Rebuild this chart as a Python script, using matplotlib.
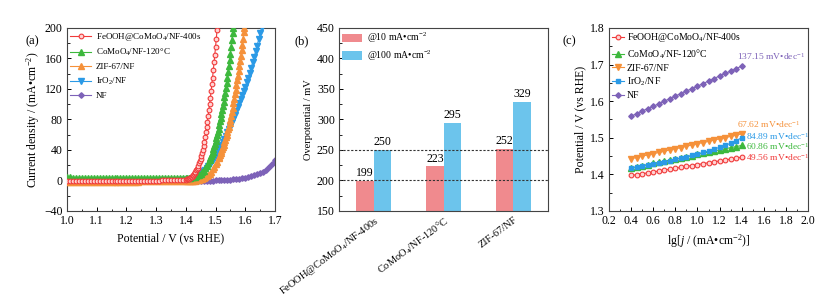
import matplotlib
matplotlib.use("Agg")
import matplotlib.pyplot as plt
from matplotlib.ticker import MultipleLocator
import numpy as np

plt.rcParams['font.family'] = ['Liberation Serif', 'DejaVu Serif']
plt.rcParams['mathtext.fontset'] = 'custom'
plt.rcParams['mathtext.rm'] = 'Liberation Serif'
plt.rcParams['mathtext.it'] = 'Liberation Serif:italic'
plt.rcParams['xtick.direction'] = 'in'
plt.rcParams['ytick.direction'] = 'in'
plt.rcParams['axes.linewidth'] = 0.8

# colours per sample
c_red = '#f03a3a'
c_green = '#3db83d'
c_orange = '#f5913a'
c_blue = '#2b9ae6'
c_purple = '#7d62b8'

names = ["FeOOH@CoMoO$_4$/NF-400s", "CoMoO$_4$/NF-120\u00b0C", "ZIF-67/NF", "IrO$_2$/NF", "NF"]

# ---------------- (a) LSV curves ----------------
# common low-potential part (1.00 - 1.39 V)
v_base = [1.00, 1.01, 1.02, 1.03, 1.04, 1.05, 1.06, 1.07, 1.08, 1.09,
          1.10, 1.11, 1.12, 1.13, 1.14, 1.15, 1.16, 1.17, 1.18, 1.19,
          1.20, 1.21, 1.22, 1.23, 1.24, 1.25, 1.26, 1.27, 1.28, 1.29,
          1.30, 1.31, 1.32, 1.33, 1.34, 1.35, 1.36, 1.37, 1.38, 1.39]
j_red_base = [-1.2, -1.2, -1.1, -1.1, -1.0, -1.0, -1.0, -0.9, -0.9, -0.9,
              -0.8, -0.8, -0.8, -0.7, -0.7, -0.7, -0.6, -0.6, -0.6, -0.5,
              -0.5, -0.5, -0.4, -0.4, -0.4, -0.3, -0.3, -0.3, -0.2, -0.2,
              -0.1, -0.1, 0.0, 0.0, 0.1, 0.2, 0.3, 0.4, 0.6, 0.8]
j_green_base = [4.0, 4.0, 3.9, 3.9, 3.8, 3.8, 3.7, 3.7, 3.6, 3.6,
                3.5, 3.5, 3.5, 3.4, 3.4, 3.4, 3.3, 3.3, 3.3, 3.3,
                3.2, 3.2, 3.2, 3.2, 3.1, 3.1, 3.1, 3.1, 3.1, 3.1,
                3.1, 3.1, 3.1, 3.1, 3.1, 3.1, 3.1, 3.1, 3.2, 3.2]
j_orange_base = [-2.2, -2.2, -2.1, -2.1, -2.0, -2.0, -2.0, -1.9, -1.9, -1.9,
                 -1.8, -1.8, -1.8, -1.7, -1.7, -1.7, -1.6, -1.6, -1.6, -1.5,
                 -1.5, -1.5, -1.4, -1.4, -1.4, -1.3, -1.3, -1.3, -1.3, -1.2,
                 -1.2, -1.2, -1.2, -1.1, -1.1, -1.1, -1.1, -1.0, -1.0, -1.0]
j_blue_base = [-1.5, -1.5, -1.4, -1.4, -1.4, -1.3, -1.3, -1.3, -1.2, -1.2,
               -1.2, -1.1, -1.1, -1.1, -1.0, -1.0, -1.0, -0.9, -0.9, -0.9,
               -0.8, -0.8, -0.8, -0.7, -0.7, -0.7, -0.6, -0.6, -0.6, -0.5,
               -0.5, -0.4, -0.4, -0.3, -0.3, -0.2, -0.1, -0.1, 0.0, 0.1]
j_purple_base = [-1.4, -1.4, -1.4, -1.3, -1.3, -1.3, -1.3, -1.2, -1.2, -1.2,
                 -1.2, -1.1, -1.1, -1.1, -1.1, -1.0, -1.0, -1.0, -1.0, -1.0,
                 -1.0, -0.9, -0.9, -0.9, -0.9, -0.9, -0.9, -0.9, -0.9, -0.9,
                 -0.9, -0.9, -0.9, -0.9, -0.8, -0.8, -0.8, -0.8, -0.8, -0.8]

v_red = [1.4000, 1.4025, 1.4050, 1.4075, 1.4100, 1.4125, 1.4150, 1.4175, 1.4200, 1.4225,
         1.4250, 1.4275, 1.4300, 1.4325, 1.4350, 1.4375, 1.4400, 1.4425, 1.4450, 1.4475,
         1.4500, 1.4525, 1.4550, 1.4575, 1.4600, 1.4625, 1.4650, 1.4675, 1.4700, 1.4725,
         1.4750, 1.4775, 1.4800, 1.4825, 1.4850, 1.4875, 1.4900, 1.4925, 1.4950, 1.4975,
         1.5000, 1.5025, 1.5050]
j_red = [1.0, 1.3, 1.7, 2.1, 2.5, 3.1, 3.7, 4.3, 5.0, 6.1,
         7.3, 8.6, 10.0, 11.6, 13.3, 15.1, 17.0, 19.6, 22.4, 25.1,
         28.0, 32.0, 36.2, 40.5, 45.0, 51.0, 57.2, 63.5, 70.0, 77.3,
         84.8, 92.3, 100.0, 108.5, 117.0, 126.0, 135.0, 145.0, 155.0, 165.0,
         175.0, 186.0, 197.0]

v_green = [1.400, 1.405, 1.410, 1.415, 1.420, 1.425, 1.430, 1.435, 1.440, 1.445,
           1.450, 1.455, 1.460, 1.465, 1.470, 1.475, 1.480, 1.4825, 1.485, 1.4875,
           1.490, 1.4925, 1.495, 1.4975, 1.500, 1.5025, 1.505, 1.5075, 1.510, 1.5125,
           1.515, 1.5175, 1.520, 1.5225, 1.525, 1.5275, 1.530, 1.5325, 1.535, 1.5375,
           1.540, 1.5425, 1.545, 1.5475, 1.550, 1.5525, 1.555, 1.5575, 1.559]
j_green = [3.2, 3.3, 3.5, 3.7, 4.0, 4.4, 5.0, 5.8, 6.7, 7.8,
           9.0, 10.8, 13.0, 15.8, 19.0, 22.8, 27.0, 29.6, 32.3, 35.1,
           38.0, 41.4, 44.9, 48.4, 52.0, 55.9, 59.9, 63.9, 68.0, 72.7,
           77.4, 82.2, 87.0, 92.4, 97.8, 103.3, 109.0, 115.4, 121.8, 128.4,
           135.0, 142.6, 150.3, 158.1, 166.0, 175.2, 184.6, 194.0, 199.5]

v_orange = [1.400, 1.405, 1.410, 1.415, 1.420, 1.425, 1.430, 1.435, 1.440, 1.445,
            1.450, 1.455, 1.460, 1.465, 1.470, 1.475, 1.480, 1.485, 1.490, 1.495,
            1.500, 1.505, 1.510, 1.5125, 1.515, 1.5175, 1.520, 1.5225, 1.525, 1.5275,
            1.530, 1.5325, 1.535, 1.5375, 1.540, 1.5425, 1.545, 1.5475, 1.550, 1.5525,
            1.555, 1.5575, 1.560, 1.5625, 1.565, 1.5675, 1.570, 1.5725, 1.575, 1.5775,
            1.580, 1.5825, 1.585, 1.5875, 1.590, 1.5925, 1.595, 1.597]
j_orange = [-1.0, -0.9, -0.8, -0.6, -0.4, -0.2, -0.1, 0.2, 0.5, 0.9,
            1.4, 2.1, 3.0, 4.2, 5.5, 7.0, 8.7, 11.5, 14.5, 17.6,
            21.0, 24.8, 29.0, 31.3, 33.6, 36.0, 38.5, 41.3, 44.1, 47.0,
            50.0, 53.2, 56.4, 59.7, 63.0, 66.9, 70.8, 74.9, 79.0, 84.4,
            89.9, 95.6, 101.5, 107.2, 113.0, 119.0, 125.0, 131.2, 137.4, 143.7,
            150.0, 156.8, 163.7, 170.8, 178.0, 186.0, 194.5, 200.5]

v_blue = [1.400, 1.405, 1.410, 1.415, 1.420, 1.425, 1.430, 1.435, 1.440, 1.445,
          1.450, 1.455, 1.460, 1.465, 1.470, 1.475, 1.480, 1.485, 1.490, 1.495,
          1.500, 1.505, 1.510, 1.515, 1.520, 1.525, 1.530, 1.535, 1.540, 1.545,
          1.550, 1.555, 1.560, 1.565, 1.570, 1.575, 1.580, 1.585, 1.590, 1.595,
          1.600, 1.605, 1.610, 1.615, 1.620, 1.625, 1.630, 1.635, 1.640, 1.645,
          1.650, 1.655]
j_blue = [0.2, 0.5, 0.9, 1.4, 2.0, 2.9, 4.0, 5.0, 6.0, 7.4,
          9.0, 10.5, 12.0, 14.0, 16.0, 18.5, 21.0, 24.0, 27.0, 30.0,
          33.0, 36.5, 40.0, 43.5, 47.0, 51.0, 55.0, 59.0, 63.0, 67.5,
          72.0, 76.5, 81.0, 86.0, 91.0, 96.0, 101.0, 106.5, 112.0, 117.5,
          123.0, 129.0, 135.0, 141.5, 148.0, 155.0, 162.0, 169.5, 177.0, 185.0,
          193.0, 201.0]

v_purple = [1.40, 1.41, 1.42, 1.43, 1.44, 1.45, 1.46, 1.47, 1.48, 1.49,
            1.50, 1.51, 1.52, 1.53, 1.54, 1.55, 1.56, 1.57, 1.58, 1.59,
            1.60, 1.61, 1.62, 1.63, 1.64, 1.65, 1.66, 1.67, 1.68, 1.69, 1.70]
j_purple = [-0.8, -0.8, -0.7, -0.7, -0.6, -0.6, -0.5, -0.4, -0.3, -0.2,
            0.0, 0.2, 0.4, 0.6, 0.9, 1.2, 1.6, 2.0, 2.5, 3.1,
            3.8, 4.6, 5.5, 6.6, 7.9, 9.6, 11.6, 14.2, 17.4, 21.4, 26.5]

# ---------------- (b) overpotentials ----------------
bar_cats = ["FeOOH@CoMoO$_4$/NF-400s", "CoMoO$_4$/NF-120\u00b0C", "ZIF-67/NF"]
eta_10 = [199, 223, 252]
eta_100 = [250, 295, 329]

# ---------------- (c) Tafel ----------------
lgj = [0.40, 0.45, 0.50, 0.55, 0.60, 0.65, 0.70, 0.75, 0.80, 0.85,
       0.90, 0.95, 1.00, 1.05, 1.10, 1.15, 1.20, 1.25, 1.30, 1.35, 1.40]
t_red = [1.397, 1.399, 1.402, 1.404, 1.407, 1.409, 1.412, 1.414, 1.417, 1.419,
         1.422, 1.424, 1.427, 1.429, 1.432, 1.434, 1.437, 1.439, 1.442, 1.444, 1.447]
t_green = [1.418, 1.421, 1.424, 1.427, 1.430, 1.433, 1.436, 1.439, 1.442, 1.445,
           1.448, 1.451, 1.455, 1.458, 1.461, 1.464, 1.467, 1.470, 1.473, 1.476, 1.479]
t_orange = [1.443, 1.446, 1.450, 1.453, 1.456, 1.460, 1.463, 1.467, 1.470, 1.473,
            1.477, 1.480, 1.484, 1.487, 1.490, 1.494, 1.497, 1.500, 1.504, 1.507, 1.511]
t_blue = [1.417, 1.419, 1.422, 1.425, 1.428, 1.431, 1.434, 1.437, 1.441, 1.444,
          1.448, 1.452, 1.456, 1.460, 1.464, 1.469, 1.474, 1.479, 1.485, 1.492, 1.500]
t_purple = [1.559, 1.566, 1.573, 1.580, 1.586, 1.593, 1.600, 1.607, 1.614, 1.621,
            1.628, 1.634, 1.641, 1.648, 1.655, 1.662, 1.669, 1.676, 1.682, 1.689, 1.696]
tafel_slopes = ["49.56", "60.86", "67.62", "84.89", "137.15"]

fig = plt.figure(figsize=(8.33, 3.06), dpi=100)
ax1 = fig.add_axes([0.0804, 0.3105, 0.2497, 0.598])
ax2 = fig.add_axes([0.4070, 0.3105, 0.2509, 0.598])
ax3 = fig.add_axes([0.7311, 0.3105, 0.2389, 0.598])

fs = 8.5
unit = "mA\u2022cm$^{-2}$"

# (a)
ms = 3.8
ax1.plot(v_base + v_purple, j_purple_base + j_purple, color=c_purple, marker='D', ms=2.8, lw=0.8, label=names[4], zorder=2)
ax1.plot(v_base + v_blue, j_blue_base + j_blue, color=c_blue, marker='v', ms=ms, lw=0.8, label=names[3], zorder=3)
ax1.plot(v_base + v_orange, j_orange_base + j_orange, color=c_orange, marker='^', ms=ms, lw=0.8, label=names[2], zorder=3)
ax1.plot(v_base + v_green, j_green_base + j_green, color=c_green, marker='^', ms=ms, lw=0.8, label=names[1], zorder=4)
ax1.plot(v_base + v_red, j_red_base + j_red, color=c_red, marker='o', ms=3.4, mfc='#ffd4d4', mew=0.8, lw=0.8, label=names[0], zorder=5)
h, l = ax1.get_legend_handles_labels()
ax1.legend(h[::-1], l[::-1], loc='upper left', frameon=False, fontsize=6.5, handlelength=2.4,
           labelspacing=0.5, borderaxespad=0.1, handletextpad=0.5, borderpad=0.2)
ax1.set_xlim(1.0, 1.7)
ax1.set_ylim(-40, 200)
ax1.xaxis.set_major_locator(MultipleLocator(0.1))
ax1.xaxis.set_minor_locator(MultipleLocator(0.05))
ax1.yaxis.set_major_locator(MultipleLocator(40))
ax1.yaxis.set_minor_locator(MultipleLocator(20))
ax1.set_xlabel("Potential / V (vs RHE)", fontsize=fs)
ax1.set_ylabel("Current density / (" + unit + ")", fontsize=fs, labelpad=2)

# (b)
x = np.arange(len(bar_cats))
w = 0.25
b1 = ax2.bar(x - w / 2, eta_10, w, color='#f08a8e', label="@10 " + unit, zorder=2)
b2 = ax2.bar(x + w / 2, eta_100, w, color='#6cc4ec', label="@100 " + unit, zorder=2)
for rect, val in zip(list(b1) + list(b2), eta_10 + eta_100):
    ax2.text(rect.get_x() + rect.get_width() / 2, val + 3, str(val), ha='center', va='bottom', fontsize=fs)
ax2.axhline(200, color='#333333', ls=(0, (2, 1.5)), lw=0.8, zorder=3)
ax2.axhline(250, color='#333333', ls=(0, (2, 1.5)), lw=0.8, zorder=3)
ax2.set_xlim(-0.5, 2.5)
ax2.set_ylim(150, 450)
ax2.yaxis.set_major_locator(MultipleLocator(50))
ax2.yaxis.set_minor_locator(MultipleLocator(25))
ax2.set_xticks(x)
ax2.set_xticklabels(bar_cats, rotation=37, ha='right', rotation_mode='anchor', fontsize=7.5)
ax2.tick_params(axis='x', length=0, pad=4)
ax2.set_ylabel("Overpotential / mV", fontsize=7.5, labelpad=3)
ax2.legend(loc='upper left', frameon=False, fontsize=7, handlelength=2.1, handleheight=1.0,
           labelspacing=0.3, borderaxespad=0.1, handletextpad=0.5, borderpad=0.2)

# (c)
ax3.plot(lgj, t_red, color=c_red, marker='o', ms=3.4, mfc='#ffd4d4', mew=0.8, lw=0.8, label=names[0])
ax3.plot(lgj, t_green, color=c_green, marker='^', ms=ms, lw=0.8, label=names[1])
ax3.plot(lgj, t_orange, color=c_orange, marker='v', ms=ms, lw=0.8, label=names[2])
ax3.plot(lgj, t_blue, color=c_blue, marker='s', ms=2.8, lw=0.8, label=names[3])
ax3.plot(lgj, t_purple, color=c_purple, marker='D', ms=2.8, lw=0.8, label=names[4])
ax3.legend(loc='upper left', frameon=False, fontsize=7, handlelength=1.2,
           labelspacing=0.3, borderaxespad=0.15, handletextpad=0.3, borderpad=0.2)
slope_txt = " mV\u2022dec$^{-1}$"
sfs = 6.8
ax3.text(1.355, 1.722, tafel_slopes[4] + slope_txt, color=c_purple, fontsize=sfs, va='center')
ax3.text(1.355, 1.536, tafel_slopes[2] + slope_txt, color=c_orange, fontsize=sfs, va='center')
ax3.text(1.435, 1.504, tafel_slopes[3] + slope_txt, color=c_blue, fontsize=sfs, va='center')
ax3.text(1.435, 1.475, tafel_slopes[1] + slope_txt, color=c_green, fontsize=sfs, va='center')
ax3.text(1.435, 1.446, tafel_slopes[0] + slope_txt, color=c_red, fontsize=sfs, va='center')
ax3.set_xlim(0.2, 2.0)
ax3.set_ylim(1.3, 1.8)
ax3.xaxis.set_major_locator(MultipleLocator(0.2))
ax3.xaxis.set_minor_locator(MultipleLocator(0.1))
ax3.yaxis.set_major_locator(MultipleLocator(0.1))
ax3.yaxis.set_minor_locator(MultipleLocator(0.05))
ax3.set_xlabel("lg[$j$ / (" + unit + ")]", fontsize=fs)
ax3.set_ylabel("Potential / V (vs RHE)", fontsize=fs, labelpad=3)

for ax in (ax1, ax2, ax3):
    ax.tick_params(which='major', length=3, width=0.7, labelsize=fs, pad=3)
    ax.tick_params(which='minor', length=1.8, width=0.6)
    for s in ax.spines.values():
        s.set_color('#444444')
ax2.tick_params(axis='x', which='both', length=0, labelsize=7.5)

fig.text(0.031, 0.866, "(a)", fontsize=9, va='center')
fig.text(0.354, 0.866, "(b)", fontsize=9, va='center')
fig.text(0.675, 0.866, "(c)", fontsize=9, va='center')

fig.savefig("out.png", dpi=100)
